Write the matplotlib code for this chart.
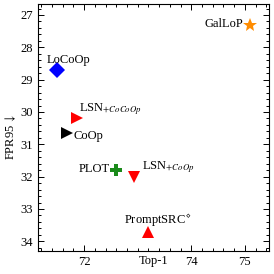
import matplotlib
matplotlib.use("Agg")
import matplotlib.pyplot as plt
from matplotlib.ticker import MultipleLocator

# values
methods = ["LoCoOp", "LSN$_{+CoCoOp}$", "CoOp", "PLOT", "LSN$_{+CoOp}$", r"PromptSRC$^\diamond$", "GalLoP"]
top1 = [71.50, 71.87, 71.68, 72.59, 72.93, 73.19, 75.09]
fpr95 = [28.70, 30.20, 30.65, 31.80, 32.00, 33.71, 27.30]

# marker style per method
markers = ["D", ">", ">", "P", "v", "^", "*"]
colors = ["#0000ff", "#ff0000", "#000000", "#1a8a1a", "#ff0000", "#ff0000", "#ff8c00"]
sizes = [8, 8.5, 8.5, 8.5, 8.5, 8.5, 10]
# label offsets (points) and alignment
offsets = [(-8, 7.5), (1, 6.5), (5, -2.5), (-4, 0.5), (6, 6.5), (-17, 8), (-4.5, 0.5)]
aligns = ["left", "left", "left", "right", "left", "left", "right"]

plt.rcParams["font.family"] = ["Liberation Serif", "DejaVu Serif"]
plt.rcParams["mathtext.fontset"] = "stix"

fig = plt.figure(figsize=(2.74, 2.74), dpi=100)
ax = fig.add_axes([0.1387, 0.0839, 0.8431, 0.9015])

for i in range(len(methods)):
    ax.plot(top1[i], fpr95[i], marker=markers[i], color=colors[i], ms=sizes[i],
            linestyle="none", markeredgewidth=0)
    ax.annotate(methods[i], (top1[i], fpr95[i]), xytext=offsets[i],
                textcoords="offset points", ha=aligns[i], va="center", fontsize=9)

ax.set_xlim(71.14, 75.45)
ax.set_ylim(34.3, 26.66)
ax.set_xticks([72, 74, 75])
ax.set_yticks([27, 28, 29, 30, 31, 32, 33, 34])
ax.xaxis.set_minor_locator(MultipleLocator(0.2))
ax.yaxis.set_minor_locator(MultipleLocator(0.2))
ax.tick_params(which="both", direction="in", top=True, right=True, labelsize=9, width=0.7)
ax.tick_params(which="major", length=4)
ax.tick_params(which="minor", length=2)
for s in ax.spines.values():
    s.set_linewidth(0.8)

ax.set_xlabel("Top-1", fontsize=9)
ax.xaxis.set_label_coords(0.5, -0.018)
ax.set_ylabel(r"FPR95$\,\downarrow$", fontsize=9)
ax.yaxis.set_label_coords(-0.085, 0.46)

fig.savefig("out.png", dpi=100)
